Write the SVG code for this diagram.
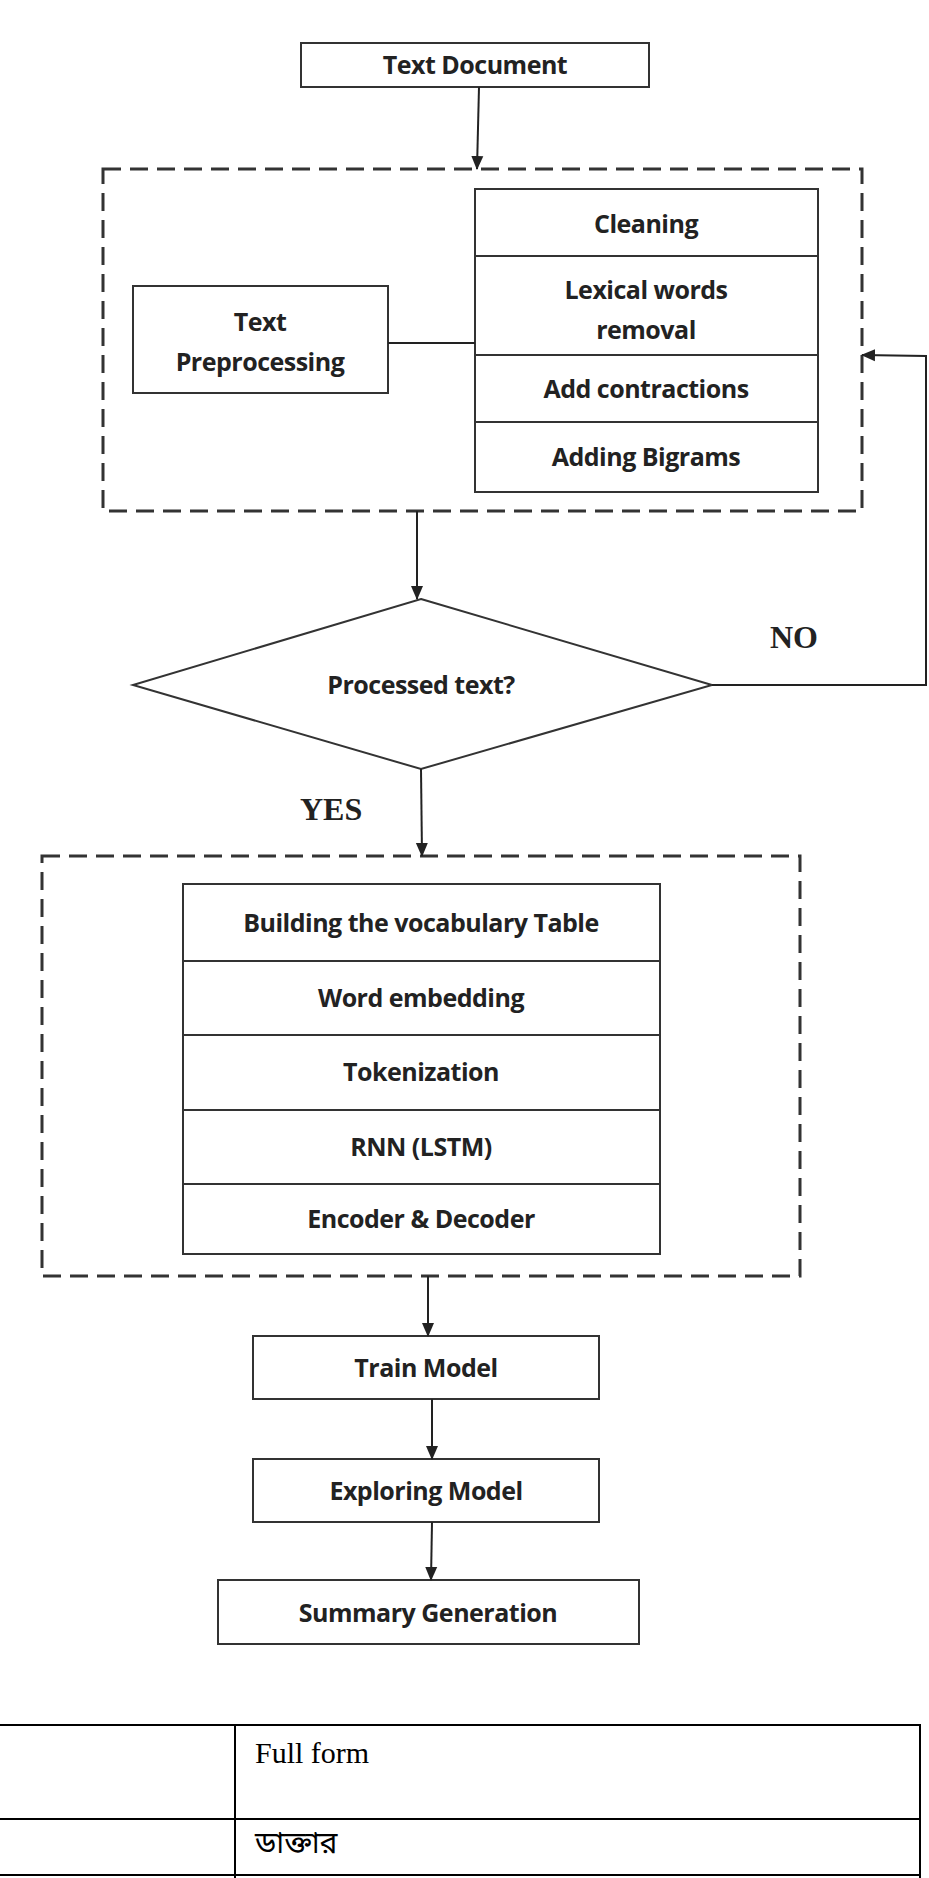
<svg xmlns="http://www.w3.org/2000/svg" width="929" height="1878" viewBox="0 0 929 1878">
<style>
.b{fill:#fff;stroke:#333;stroke-width:2}
.d{fill:none;stroke:#333;stroke-width:3;stroke-dasharray:18 9}
.t{font-family:"Open Sans","Liberation Sans",sans-serif;font-weight:bold;font-size:25px;fill:#222;text-anchor:middle;letter-spacing:-0.5px}
.s{font-family:"Liberation Serif",serif;font-weight:bold;font-size:32px;fill:#222}
.c{fill:none;stroke:#222;stroke-width:2}
.tb{font-family:"Liberation Serif","Noto Sans Bengali",serif;font-size:30px;fill:#000}
</style>
<defs><marker id="ah" markerWidth="14" markerHeight="14" refX="13" refY="7" orient="auto" markerUnits="userSpaceOnUse"><path d="M0,1 L14,7 L0,13 z" fill="#222"/></marker></defs>
<g id="group1"><rect class="d" x="103" y="169" width="759" height="342"/></g>
<g id="group2"><rect class="d" x="42" y="856" width="758" height="420"/></g>
<g id="textdoc"><rect class="b" x="301" y="43" width="348" height="44"/><text class="t" x="475" y="74">Text Document</text></g>
<g id="preproc"><rect class="b" x="133" y="286" width="255" height="107"/><text class="t" x="260" y="331">Text</text><text class="t" x="260" y="371">Preprocessing</text></g>
<g id="cleaning"><rect class="b" x="475" y="189" width="343" height="67"/><text class="t" x="646" y="233">Cleaning</text></g>
<g id="lexical"><rect class="b" x="475" y="256" width="343" height="99"/><text class="t" x="646" y="299">Lexical words</text><text class="t" x="646" y="339">removal</text></g>
<g id="contractions"><rect class="b" x="475" y="355" width="343" height="67"/><text class="t" x="646" y="398">Add contractions</text></g>
<g id="bigrams"><rect class="b" x="475" y="422" width="343" height="70"/><text class="t" x="646" y="466">Adding Bigrams</text></g>
<g id="decision"><polygon class="b" points="421,599 712,685 421,769 133,685"/><text class="t" x="421" y="694">Processed text?</text></g>
<g id="vocab"><rect class="b" x="183" y="884" width="477" height="77"/><text class="t" x="421" y="932">Building the vocabulary Table</text></g>
<g id="embed"><rect class="b" x="183" y="961" width="477" height="74"/><text class="t" x="421" y="1007">Word embedding</text></g>
<g id="token"><rect class="b" x="183" y="1035" width="477" height="75"/><text class="t" x="421" y="1081">Tokenization</text></g>
<g id="rnn"><rect class="b" x="183" y="1110" width="477" height="74"/><text class="t" x="421" y="1156">RNN (LSTM)</text></g>
<g id="encdec"><rect class="b" x="183" y="1184" width="477" height="70"/><text class="t" x="421" y="1228">Encoder &amp; Decoder</text></g>
<g id="train"><rect class="b" x="253" y="1336" width="346" height="63"/><text class="t" x="426" y="1377">Train Model</text></g>
<g id="explore"><rect class="b" x="253" y="1459" width="346" height="63"/><text class="t" x="426" y="1500">Exploring Model</text></g>
<g id="summary"><rect class="b" x="218" y="1580" width="421" height="64"/><text class="t" x="428" y="1622">Summary Generation</text></g>
<g id="connectors">
<path class="c" d="M479,87 L477,169" marker-end="url(#ah)"/>
<path class="c" d="M388,343 L475,343"/>
<path class="c" d="M417,511 L417,599" marker-end="url(#ah)"/>
<path class="c" d="M712,685 L926,685 L926,356 L862,355" marker-end="url(#ah)"/>
<path class="c" d="M421,769 L422,856" marker-end="url(#ah)"/>
<path class="c" d="M428,1276 L428,1336" marker-end="url(#ah)"/>
<path class="c" d="M432,1399 L432,1459" marker-end="url(#ah)"/>
<path class="c" d="M432,1522 L431,1580" marker-end="url(#ah)"/>
<text class="s" x="770" y="648">NO</text>
<text class="s" x="300" y="820">YES</text>
</g>
<g id="table">
<path d="M0,1725 H920 V1878 M235,1725 V1878 M0,1819 H920 M0,1875 H920" fill="none" stroke="#000" stroke-width="2"/>
<text class="tb" x="255" y="1763">Full form</text>
<text class="tb" x="255" y="1853" font-family="'Noto Sans Bengali','Noto Serif Bengali','Lohit Bengali',sans-serif" font-size="28">ডাক্তার</text>
</g>
</svg>
